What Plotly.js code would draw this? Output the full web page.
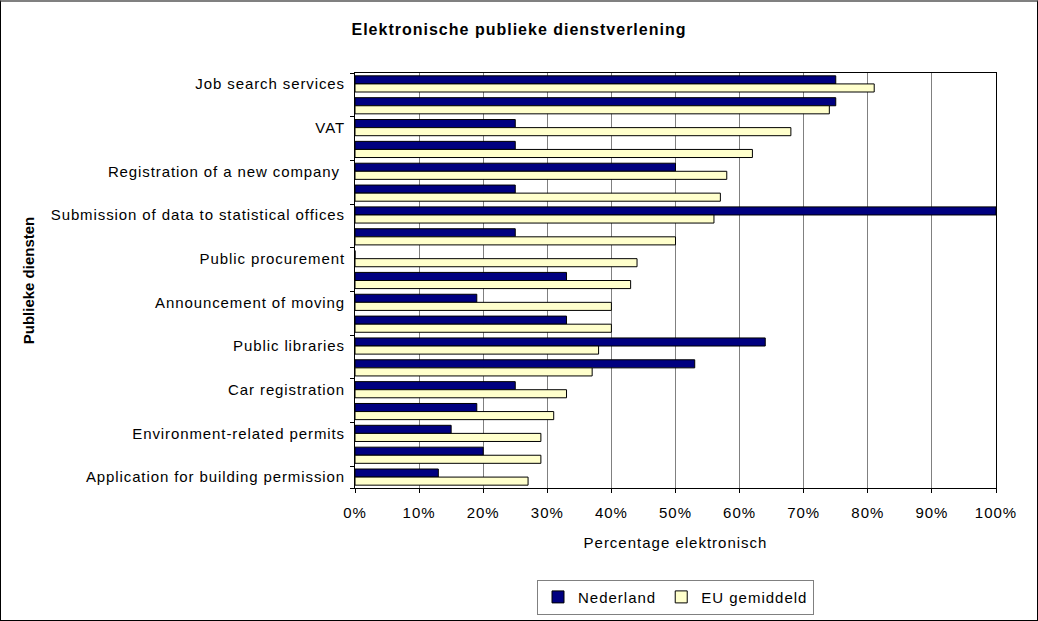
<!DOCTYPE html>
<html>
<head>
<meta charset="utf-8">
<script src="https://cdn.plot.ly/plotly-3.0.1.min.js"></script>
<style>
html,body{margin:0;padding:0;background:#fff;}
#chart{width:1038px;height:621px;box-sizing:border-box;border-left:1px solid #000;border-top:2px solid #808080;border-right:1px solid #000;border-bottom:1px solid #000;}
text{letter-spacing:1px;}
text.ytitle{letter-spacing:0;}
.yaxislayer-above text{letter-spacing:0.9px;}
</style>
</head>
<body>
<div id="chart"></div>
<script>
// Categories, top to bottom
const categories = [
  "Job search services",
  "Income taxes",
  "VAT",
  "Social contributions for employees",
  "Registration of a new company",
  "Corporate tax",
  "Submission of data to statistical offices",
  "Customs declarations",
  "Public procurement",
  "Social security benefits",
  "Announcement of moving",
  "Enrolment in higher education",
  "Public libraries",
  "Declaration to the police",
  "Car registration",
  "Certificates",
  "Environment-related permits",
  "Personal documents",
  "Application for building permission"
];
// Labels actually printed on the axis (every other category)
const shownLabels = [
  "Job search services",
  "VAT",
  "Registration of a new company ",
  "Submission of data to statistical offices",
  "Public procurement",
  "Announcement of moving",
  "Public libraries",
  "Car registration",
  "Environment-related permits",
  "Application for building permission"
];
const nederland = [75, 75, 25, 25, 50, 25, 100, 25, 0, 33, 19, 33, 64, 53, 25, 19, 15, 20, 13];
const euGemiddeld = [81, 74, 68, 62, 58, 57, 56, 50, 44, 43, 40, 40, 38, 37, 33, 31, 29, 29, 27];
const xTicks = [0, 10, 20, 30, 40, 50, 60, 70, 80, 90, 100];

const shownCats = categories.filter((c, i) => i % 2 === 0);

const font = "Liberation Sans, Arial, Helvetica, sans-serif";

const traces = [
  {
    type: "bar", orientation: "h", name: "Nederland",
    y: categories, x: nederland,
    marker: {color: "#000080", line: {color: "#000000", width: 1}},
    hoverinfo: "x+y"
  },
  {
    type: "bar", orientation: "h", name: "EU gemiddeld",
    y: categories, x: euGemiddeld,
    marker: {color: "#FFFFCC", line: {color: "#000000", width: 1}},
    hoverinfo: "x+y"
  }
];

const layout = {
  width: 1036, height: 618,
  paper_bgcolor: "rgba(0,0,0,0)",
  plot_bgcolor: "#ffffff",
  margin: {l: 354, r: 41, t: 71, b: 132, autoexpand: false},
  barmode: "group",
  bargap: 0.26,
  bargroupgap: 0,
  font: {family: font, size: 15, color: "#000"},
  title: {
    text: "<b>Elektronische publieke dienstverlening</b>",
    font: {family: font, size: 16, color: "#000"},
    x: 0.5, xref: "container", xanchor: "center",
    y: 0.955, yref: "container", yanchor: "middle"
  },
  xaxis: {
    range: [0, 100], tickvals: xTicks, ticktext: xTicks.map(v => v + "%"),
    showgrid: true, gridcolor: "#808080", gridwidth: 1,
    showline: true, linecolor: "#000", linewidth: 1, mirror: true,
    ticks: "outside", ticklen: 4, tickcolor: "#000",
    ticklabelstandoff: 7, automargin: false,
    zeroline: false, fixedrange: true,
    tickfont: {family: font, size: 15},
    title: {text: "Percentage elektronisch", font: {family: font, size: 15}, standoff: 17}
  },
  yaxis: {
    type: "category", autorange: "reversed",
    categoryorder: "array", categoryarray: categories,
    tickvals: shownCats, ticktext: shownLabels,
    tickson: "boundaries", ticks: "outside", ticklen: 4, tickcolor: "#000",
    ticklabelstandoff: 6,
    showline: true, linecolor: "#000", linewidth: 1, mirror: true,
    showgrid: false, fixedrange: true, automargin: false,
    tickfont: {family: font, size: 15},
    title: {text: "<b>Publieke diensten</b>", font: {family: font, size: 15}, standoff: 8}
  },
  legend: {
    orientation: "h", x: 0.5, xanchor: "center", y: -0.263, yanchor: "middle",
    bordercolor: "#808080", borderwidth: 1, bgcolor: "#fff",
    itemwidth: 30,
    font: {family: font, size: 15}, traceorder: "normal"
  },
  showlegend: true
};

Plotly.newPlot("chart", traces, layout, {displayModeBar: false, staticPlot: true});
</script>
</body>
</html>
